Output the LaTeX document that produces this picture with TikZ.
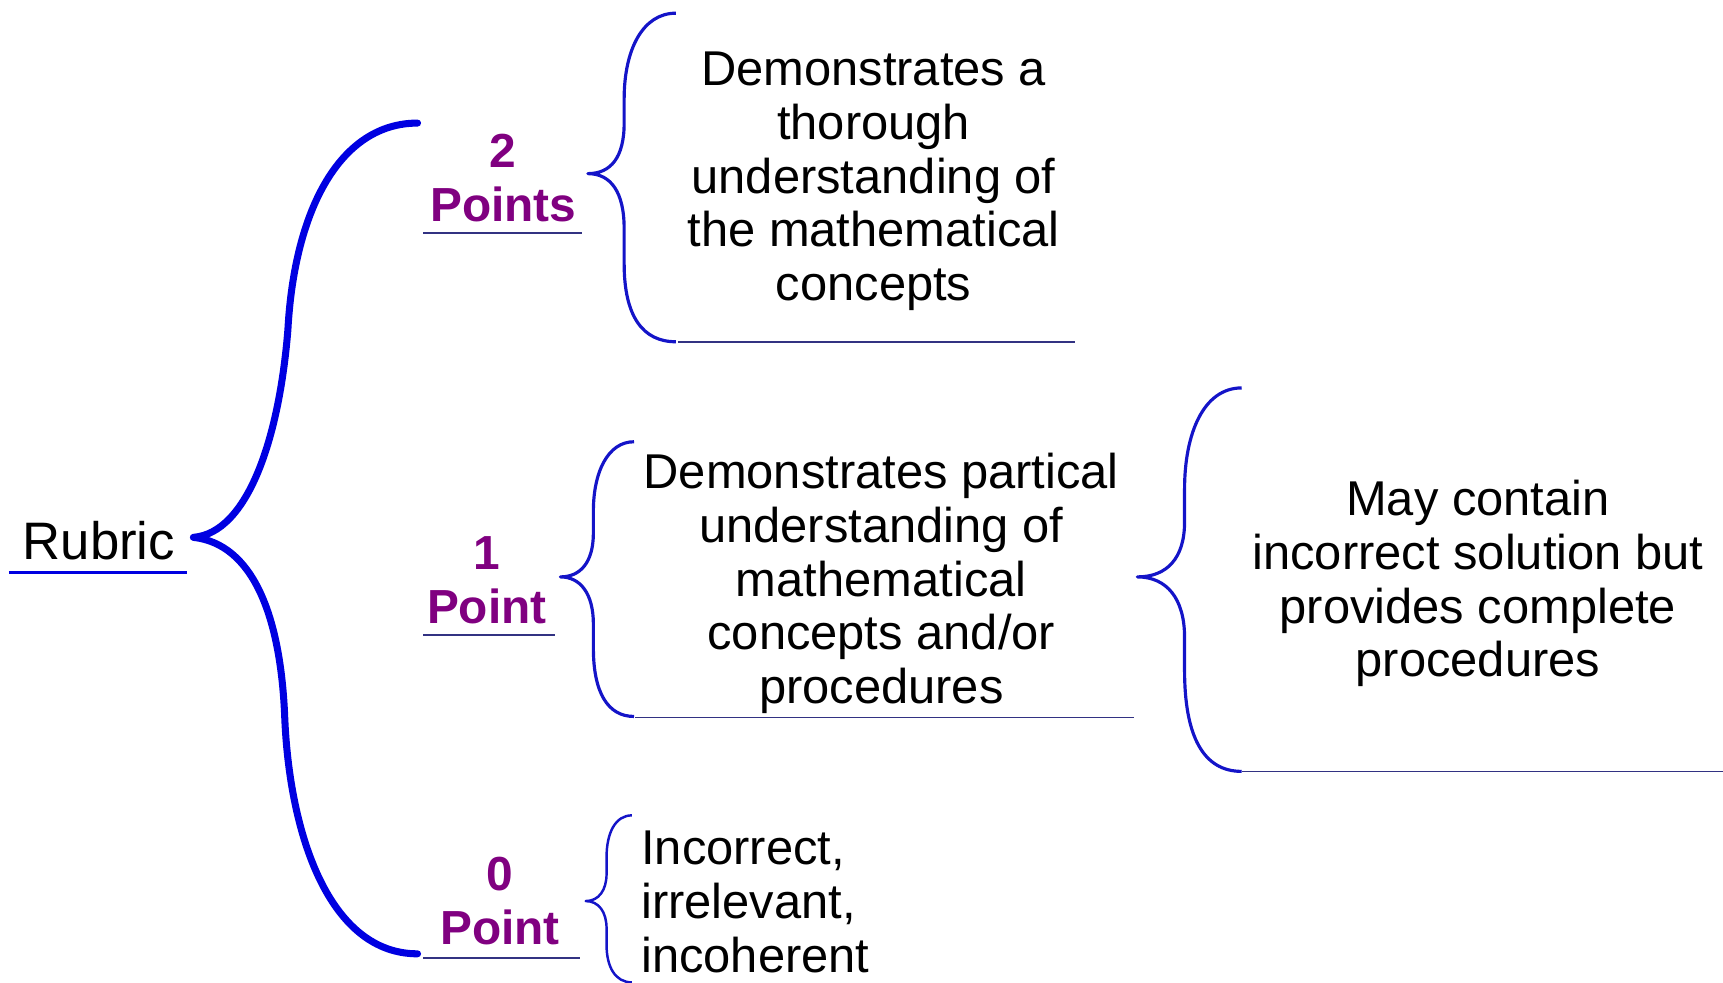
\documentclass[tikz,border=0pt]{standalone}
\usepackage{fontspec}
\setmainfont{Liberation Sans}
\definecolor{bblue}{RGB}{0,0,225}
\definecolor{tblue}{RGB}{20,20,200}
\definecolor{uline}{RGB}{50,50,130}
\definecolor{ptcol}{RGB}{128,0,128}
\begin{document}
\begin{tikzpicture}[x=0.010989cm,y=-0.010989cm,
  body/.style={inner sep=0pt,align=center,font=\fontsize{13.9}{15.3}\selectfont},
  pts/.style={inner sep=0pt,align=center,text=ptcol,font=\fontsize{13.6}{15.3}\selectfont\bfseries},
  bigbrace/.style={draw=bblue,line width=2pt,line join=round,line cap=round},
  thinbrace/.style={draw=tblue,line width=0.9pt,line join=round},
  uln/.style={draw=uline,line width=0.45pt},
  rubricln/.style={draw=bblue,line width=0.8pt}]
\useasboundingbox (0,0) rectangle (1568,894);
% text nodes
\node[body,font=\fontsize{15}{17}\selectfont] (rubric) at (90,492) {Rubric};
\node[pts] (p2) at (458,162) {2\\Points};
\node[pts] (p1) at (443,528) {1\\Point};
\node[pts] (p0) at (455,820) {0\\Point};
\node[body] (d2) at (795,165) {Demonstrates a\\thorough\\understanding of\\the mathematical\\concepts};
\node[body] (d1) at (802,531) {Demonstrates partical\\understanding of\\mathematical\\concepts and/or\\procedures};
\node[body] (d1b) at (1345,531) {May contain\\incorrect solution but\\provides complete\\procedures};
\node[body,align=left,anchor=west] (d0) at (583,821) {Incorrect,\\irrelevant,\\incoherent};
% underlines
\coordinate (ru1) at (8,521); \coordinate (ru2) at (170,521);
\draw[rubricln] (ru1) -- (ru2);
\coordinate (u2a) at (385,212); \coordinate (u2b) at (530,212);
\draw[uln] (u2a) -- (u2b);
\coordinate (ud2a) at (617,311); \coordinate (ud2b) at (978,311);
\draw[uln] (ud2a) -- (ud2b);
\coordinate (u1a) at (385,578); \coordinate (u1b) at (505,578);
\draw[uln] (u1a) -- (u1b);
\coordinate (ud1a) at (578,653); \coordinate (ud1b) at (1032,653);
\draw[uln] (ud1a) -- (ud1b);
\coordinate (ud1ba) at (1130,702); \coordinate (ud1bb) at (1568,702);
\draw[uln] (ud1ba) -- (ud1bb);
\coordinate (u0a) at (385,872); \coordinate (u0b) at (528,872);
\draw[uln] (u0a) -- (u0b);
% big brace
\coordinate (bT) at (380,112); \coordinate (bP) at (176,489); \coordinate (bB) at (380,868);
\draw[bigbrace] (bT) .. controls (310,112) and (268,190) .. (262,300)
  .. controls (254,400) and (225,485) .. (bP)
  .. controls (230,495) and (255,560) .. (259,650)
  .. controls (263,760) and (300,868) .. (bB);
% brace 2 points
\coordinate (t2) at (615,12); \coordinate (tp2) at (535,158); \coordinate (bt2) at (615,311);
\draw[thinbrace] (t2) .. controls (585,12) and (568,45) .. (568,90)
  -- (568,112) .. controls (568,143) and (556,158) .. (tp2)
  .. controls (556,158) and (568,175) .. (568,208)
  -- (568,240) .. controls (568,288) and (585,311) .. (bt2);
% brace 1 point
\coordinate (t1) at (577,402); \coordinate (tp1) at (510,525); \coordinate (bt1) at (577,652);
\draw[thinbrace] (t1) .. controls (553,402) and (540,430) .. (540,465)
  -- (540,485) .. controls (540,512) and (528,525) .. (tp1)
  .. controls (528,525) and (540,540) .. (540,568)
  -- (540,590) .. controls (540,630) and (553,652) .. (bt1);
% brace right
\coordinate (t3) at (1130,353); \coordinate (tp3) at (1035,525); \coordinate (bt3) at (1130,702);
\draw[thinbrace] (t3) .. controls (1095,353) and (1078,395) .. (1078,445)
  -- (1078,475) .. controls (1078,508) and (1062,525) .. (tp3)
  .. controls (1062,525) and (1078,545) .. (1078,580)
  -- (1078,610) .. controls (1078,670) and (1095,702) .. (bt3);
% brace 0 point
\coordinate (t0) at (575,742); \coordinate (tp0) at (533,820); \coordinate (bt0) at (575,894);
\draw[thinbrace,line width=0.7pt] (t0) .. controls (560,742) and (552,758) .. (552,780)
  -- (552,795) .. controls (552,810) and (545,820) .. (tp0)
  .. controls (545,820) and (552,830) .. (552,845)
  -- (552,860) .. controls (552,880) and (560,894) .. (bt0);
\end{tikzpicture}
\end{document}
